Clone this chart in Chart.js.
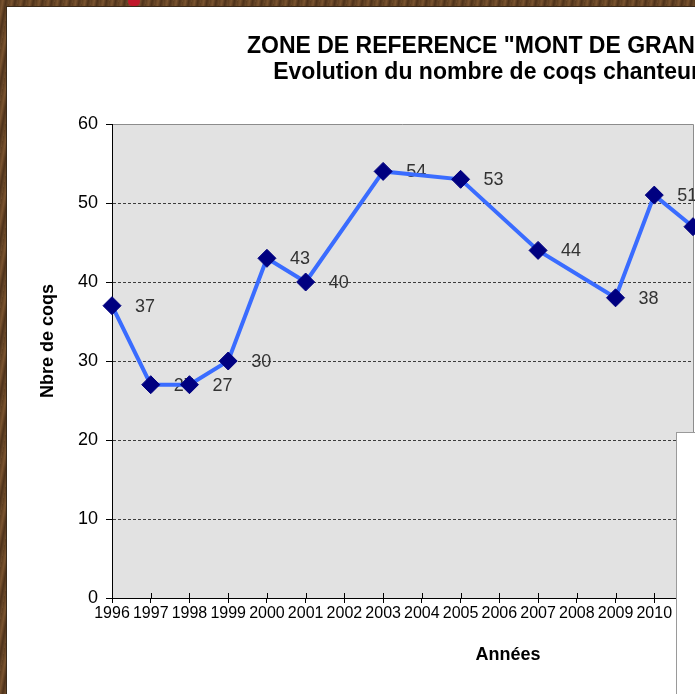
<!DOCTYPE html>
<html lang="fr">
  <head>
    <meta charset="UTF-8" />
    <title>Zone de reference - coqs chanteurs</title>
    <script src="https://cdn.jsdelivr.net/npm/chart.js"></script>
    <style>
      html, body { margin: 0; padding: 0; overflow: hidden; background: #fff; }
      #frame {
        position: relative; width: 695px; height: 694px; overflow: hidden;
        background: repeating-linear-gradient(100deg, #5e3e20 0px, #7a5430 3px, #4e321a 6px, #6b4a2a 9px);
      }
      #redspot {
        position: absolute; left: 128px; top: -3px; width: 12px; height: 9px;
        border-radius: 5px; background: #c0182a;
      }
      #panel {
        position: absolute; left: 6px; top: 6px; right: -2px; bottom: -2px;
        background: #fff; border-left: 1px solid #3a2a1a; border-top: 1px solid #3a2a1a;
        overflow: hidden;
      }
      #myChart { position: absolute; left: 0; top: 0; }
      #cover {
        position: absolute; left: 669px; top: 425px; width: 60px; height: 300px;
        background: #fff; border-left: 1px solid #9a9a9a; border-top: 1px solid #9a9a9a;
      }
    </style>
  </head>
  <body>
    <div id="frame">
      <div id="redspot"></div>
      <div id="panel">
        <canvas id="myChart" width="972" height="687"></canvas>
        <div id="cover"></div>
      </div>
    </div>

    <script>
      // comptages des coqs chanteurs, annees sans comptage = null
      const years = ['1996', '1997', '1998', '1999', '2000', '2001', '2002', '2003',
                     '2004', '2005', '2006', '2007', '2008', '2009', '2010', '2011'];
      const coqs = [37, 27, 27, 30, 43, 40, null, 54, null, 53, null, 44, null, 38, 51, 47];
      const titleLines = ['ZONE DE REFERENCE "MONT DE GRANGE"', 'Evolution du nombre de coqs chanteurs'];
      const yTitle = 'Nbre de coqs';
      const xTitle = 'Années';

      const FONT = "'Liberation Sans', Arial, sans-serif";

      // fond gris de la zone de tracage, graduations, etiquettes et titres
      const plotArea = {
        id: 'plotArea',
        beforeDraw(chart) {
          const { ctx, chartArea: a } = chart;
          ctx.save();
          ctx.fillStyle = '#e2e2e2';
          ctx.fillRect(a.left, a.top, a.right - a.left, a.bottom - a.top);
          ctx.strokeStyle = '#8c8c8c';
          ctx.lineWidth = 1;
          ctx.beginPath();
          ctx.moveTo(a.left, a.top + 0.5);
          ctx.lineTo(a.right + 0.5, a.top + 0.5);
          ctx.lineTo(a.right + 0.5, a.bottom);
          ctx.stroke();
          ctx.restore();
        },
        beforeDatasetsDraw(chart) {
          const { ctx, chartArea: a } = chart;
          const xs = chart.scales.x;
          ctx.save();
          // petites graduations au-dessus de l'axe (croix facon Excel)
          ctx.strokeStyle = '#000';
          ctx.lineWidth = 1;
          xs.ticks.forEach((t, i) => {
            const px = Math.round(xs.getPixelForTick(i)) + 0.5;
            ctx.beginPath();
            ctx.moveTo(px, a.bottom - 5);
            ctx.lineTo(px, a.bottom);
            ctx.stroke();
          });
          // etiquettes de valeurs
          const meta = chart.getDatasetMeta(0);
          ctx.fillStyle = '#333';
          ctx.font = '18px ' + FONT;
          ctx.textAlign = 'left';
          ctx.textBaseline = 'middle';
          meta.data.forEach((pt, i) => {
            if (coqs[i] == null) return;
            ctx.fillText(String(coqs[i]), pt.x + 23, pt.y + 1);
          });
          ctx.restore();
        },
        afterDraw(chart) {
          const { ctx } = chart;
          ctx.save();
          ctx.fillStyle = '#000';
          ctx.textAlign = 'center';
          ctx.textBaseline = 'middle';
          ctx.font = 'bold 23px ' + FONT;
          ctx.fillText(titleLines[0], 486, 40);
          ctx.fillText(titleLines[1], 486, 66);
          ctx.font = 'bold 18px ' + FONT;
          ctx.fillText(xTitle, 501, 648);
          ctx.translate(41, 334);
          ctx.rotate(-Math.PI / 2);
          ctx.fillText(yTitle, 0, 0);
          ctx.restore();
        }
      };

      const ctx = document.getElementById('myChart').getContext('2d');
      const myChart = new Chart(ctx, {
        type: 'line',
        data: {
          labels: years,
          datasets: [{
            data: coqs,
            spanGaps: true,
            borderColor: '#3a6cff',
            borderWidth: 4,
            pointStyle: 'rectRot',
            pointRadius: 9,
            pointBackgroundColor: '#000080',
            pointBorderColor: '#000080',
            pointBorderWidth: 1,
            tension: 0,
            clip: false
          }]
        },
        options: {
          responsive: false,
          animation: false,
          devicePixelRatio: 1,
          layout: { padding: { left: 0, right: 286, top: 117, bottom: 0 } },
          plugins: {
            legend: { display: false },
            tooltip: { enabled: false },
            title: { display: false }
          },
          scales: {
            x: {
              afterFit(scale) { scale.height = 96; },
              border: { display: true, color: '#000', width: 1 },
              grid: { drawOnChartArea: false, drawTicks: true, tickLength: 5, tickColor: '#000', tickBorderDash: [] },
              ticks: {
                autoSkip: false, maxRotation: 0, minRotation: 0, padding: 1,
                color: '#000', font: { family: FONT, size: 16 }
              }
            },
            y: {
              min: 0,
              max: 60,
              afterFit(scale) { scale.width = 105; },
              border: { display: true, color: '#000', width: 1, dash: [3, 2] },
              grid: {
                color: c => (c.tick.value === 0 || c.tick.value === 60) ? 'rgba(0,0,0,0)' : '#3c3c3c',
                tickColor: '#000',
                tickLength: 6,
                tickBorderDash: []
              },
              ticks: {
                stepSize: 10, padding: 8,
                color: '#000', font: { family: FONT, size: 18 }
              }
            }
          }
        },
        plugins: [plotArea]
      });
    </script>
  </body>
</html>
